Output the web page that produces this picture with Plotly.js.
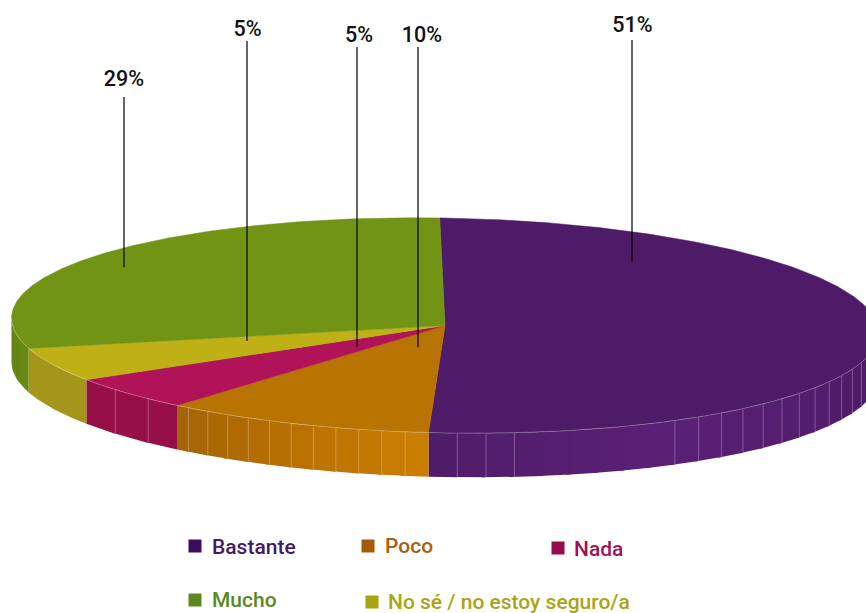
<!DOCTYPE html>
<html><head><meta charset="utf-8">
<script src="https://cdn.plot.ly/plotly-3.0.1.min.js"></script>
<style>html,body{margin:0;padding:0;background:#fff}#c{width:866px;height:613px}</style>
</head><body><div id="c"></div>
<script>
const categories = ["Bastante","Poco","Nada","No sé / no estoy seguro/a","Mucho"];
const values = [50.8,10,4.9,5,29.3];
const labelText = ["51%","10%","5%","5%","29%"];

const topColors = ["#4d1b67","#b87300","#b01358","#bfb016","#719414"];
const legendColors = ["#3c0c60","#a65b00","#960b4c","#aaa40e","#5a8a1f"];
const legendTextColors = ["#44196a","#a8610c","#a01253","#aaa415","#5a8a1f"];
const wallStops = [
  [[90,[74,26,99]],[150,[90,32,118]],[170,[84,30,110]],[183,[79,29,106]]],
  [[182,[204,127,0]],[218,[165,99,4]]],
  [[218,[151,15,72]],[236,[151,15,72]]],
  [[236,[163,150,27]],[254,[163,150,27]]],
  [[254,[104,139,20]],[270,[95,130,21]]]
];
const facetStep = [3.8,3.1,6.3,18,5.4];
const facetAscending = [false,true,false,false,false];
const facetLines = [true,true,true,false,false];

const CX=445, CY=325.5, RX=433.5, RY=107.5, DEPTH=44, TILT=0.017, START=-0.7, FONT='"Roboto", sans-serif';
const rad=d=>d*Math.PI/180;
const px=t=>CX+RX*Math.sin(rad(t));
const py=t=>CY-RY*Math.cos(rad(t))+TILT*(px(t)-CX);
const total=values.reduce((a,b)=>a+b,0);

function arc(a,b){const n=Math.max(2,Math.ceil(Math.abs(b-a)/0.5));const o=[];for(let i=0;i<=n;i++)o.push(a+(b-a)*i/n);return o;}
function wallColor(stops,t){
  if(t<=stops[0][0])return stops[0][1];
  for(let i=1;i<stops.length;i++){if(t<=stops[i][0]){const k=(t-stops[i-1][0])/(stops[i][0]-stops[i-1][0]);return stops[i-1][1].map((v,j)=>Math.round(v+(stops[i][1][j]-v)*k));}}
  return stops[stops.length-1][1];
}
const traces=[];
const base={type:'scatter',mode:'lines',hoverinfo:'skip',showlegend:false};
let angle=START;
const spans=values.map(v=>{const s=[angle,angle+v/total*360];angle=s[1];return s;});

// front walls
spans.forEach((sp,i)=>{
  const a=Math.max(sp[0],90), b=Math.min(sp[1],270);
  if(b<=a)return;
  const bounds=[];
  if(facetAscending[i]){for(let t=a;t<b-1e-6;t+=facetStep[i])bounds.push(t);bounds.push(b);}
  else{for(let t=b;t>a+1e-6;t-=facetStep[i])bounds.unshift(t);bounds.unshift(a);}
  const lineX=[],lineY=[];
  for(let k=0;k<bounds.length-1;k++){
    const t0=bounds[k], t1=bounds[k+1];
    // overlap into the next facet so no seam shows between them
    const pts=arc(t0,Math.min(b,t1+0.6));
    const c=wallColor(wallStops[i],(t0+t1)/2), col='rgb('+c.join(',')+')';
    const x=pts.map(px).concat(pts.slice().reverse().map(px));
    const y=pts.map(py).concat(pts.slice().reverse().map(q=>py(q)+DEPTH));
    traces.push(Object.assign({},base,{x,y,fill:'toself',fillcolor:col,line:{color:col,width:0}}));
  }
  if(facetLines[i]){
    bounds.slice(1,-1).forEach(t=>{
      if(i===0&&t>149.5&&t<167)return;
      lineX.push(px(t),px(t),null);lineY.push(py(t),py(t)+DEPTH,null);
    });
    traces.push(Object.assign({},base,{x:lineX,y:lineY,line:{color:'rgba(255,255,255,0.27)',width:1}}));
  }
});
// top faces
spans.forEach((sp,i)=>{
  const pts=arc(sp[0],sp[1]);
  traces.push(Object.assign({},base,{x:[CX].concat(pts.map(px),[CX]),y:[CY].concat(pts.map(py),[CY]),fill:'toself',fillcolor:topColors[i],line:{color:topColors[i],width:0.5}}));
});
// pale rim along the front edge
const rim=arc(90,270);
traces.push(Object.assign({},base,{x:rim.map(px),y:rim.map(py),line:{color:'rgba(255,255,255,0.25)',width:1}}));

// leader lines and percentage labels
const leaderX=[632,418,357,247,124], leaderTop=[40,47,47,41,97], leaderEnd=[262,347,347,341,267];
const labelX=[632.5,422,359,247.5,124], labelY=[26.5,36.5,36.5,30.5,80.5];
const lx=[],ly=[];
leaderX.forEach((x,i)=>{lx.push(x,x,null);ly.push(leaderTop[i],leaderEnd[i],null);});
traces.push(Object.assign({},base,{x:lx,y:ly,line:{color:'#000',width:1.2}}));
traces.push({type:'scatter',mode:'text',hoverinfo:'skip',showlegend:false,x:labelX,y:labelY,text:labelText,textposition:'middle center',cliponaxis:false,textfont:{family:FONT,size:21.5,weight:500,color:'#111'}});

// legend (hand-placed as in the reference)
const swatchX=[195,368,558,372,195], swatchY=[546,546,548,602,600];
const legendTextX=[210,383,572,386,210], legendTextY=[547,546,549,602,600];
categories.forEach((c,i)=>{
  traces.push({type:'scatter',mode:'markers',hoverinfo:'skip',showlegend:false,x:[swatchX[i]],y:[swatchY[i]],marker:{symbol:'square',size:13,color:legendColors[i],line:{width:0}}});
});
const annotations=categories.map((c,i)=>({x:legendTextX[i],y:legendTextY[i],xref:'x',yref:'y',xanchor:'left',yanchor:'middle',text:c,showarrow:false,font:{family:FONT,size:21,weight:500,color:legendTextColors[i]}}));

Plotly.newPlot('c',traces,{
  width:866,height:613,margin:{l:0,r:0,t:0,b:0},paper_bgcolor:'#fff',plot_bgcolor:'#fff',showlegend:false,
  xaxis:{range:[0,866],visible:false,fixedrange:true},
  yaxis:{range:[613,0],visible:false,fixedrange:true},
  annotations
},{displayModeBar:false,staticPlot:true});
</script></body></html>
